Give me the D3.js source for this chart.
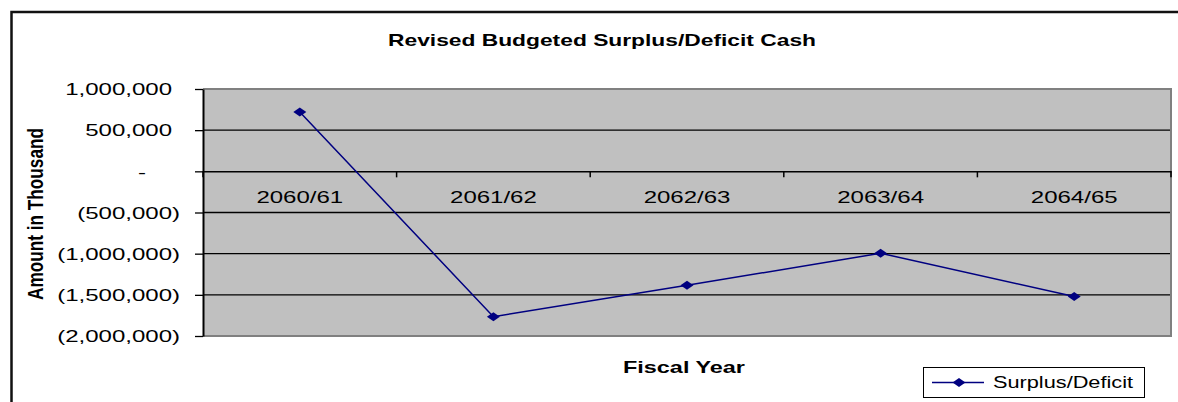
<!DOCTYPE html>
<html><head><meta charset="utf-8">
<script src="https://cdn.jsdelivr.net/npm/d3@7"></script>
<style>body{margin:0;background:#fff}svg{display:block}</style>
</head><body><svg id="c" width="1178" height="402"></svg>
<script>
const categories = ["2060/61","2061/62","2062/63","2063/64","2064/65"];
const surplusDeficit = [720000,-1765000,-1385000,-995000,-1520000];
const yTicks = [1000000,500000,0,-500000,-1000000,-1500000,-2000000];
const chartTitle = "Revised Budgeted Surplus/Deficit Cash";
const xTitle = "Fiscal Year";
const yTitle = "Amount in Thousand";
const seriesName = "Surplus/Deficit";

const svg = d3.select("#c");
const font = "'Liberation Sans', Arial, Helvetica, sans-serif";
const L = 203, R = 1171, T = 89, B = 336;
const x = d3.scaleBand().domain(categories).range([L, R]);
const y = d3.scaleLinear().domain([-2000000, 1000000]).range([B, T]);
const navy = "#000080";

function stretch(sel, factor) {
  sel.each(function () {
    const len = this.getComputedTextLength();
    d3.select(this).attr("textLength", len * factor).attr("lengthAdjust", "spacingAndGlyphs");
  });
}

// outer frame
svg.append("path").attr("d", "M11.5,402 V12 H1178").attr("fill", "none")
  .attr("stroke", "#111").attr("stroke-width", 2.5);

// plot area
svg.append("rect").attr("x", L).attr("y", T).attr("width", R - L).attr("height", B - T).attr("fill", "#c0c0c0");
svg.append("g").selectAll("line")
  .data(yTicks.filter(v => v !== d3.max(yTicks) && v !== d3.min(yTicks) && v !== 0))
  .join("line")
  .attr("x1", L).attr("x2", R).attr("y1", d => y(d)).attr("y2", d => y(d))
  .attr("stroke", "#000").attr("stroke-width", 1.3);
svg.append("path").attr("d", `M${L},${T} H${R} V${B} H${L}`).attr("fill", "none")
  .attr("stroke", "#808080").attr("stroke-width", 2);

// y axis
const fmtN = d3.format(",");
const fmt = v => v > 0 ? fmtN(v) : v < 0 ? "(" + fmtN(-v) + ")" : "-";
const gy = svg.append("g").attr("transform", `translate(${L},0)`)
  .call(d3.axisLeft(y).tickValues(yTicks).tickSize(8).tickSizeOuter(0).tickPadding(23).tickFormat(fmt));
gy.select(".domain").attr("stroke", "#000").attr("stroke-width", 2);
gy.selectAll(".tick line").attr("stroke", "#000").attr("stroke-width", 1.3);
gy.selectAll(".tick text").attr("font-family", font).attr("font-size", 16).attr("fill", "#000")
  .attr("dy", "0.36em");
gy.selectAll(".tick text").each(function (d) {
  const len = this.getComputedTextLength() * 1.5;
  const right = d < 0 ? -23 : d > 0 ? -31 : -57;
  d3.select(this).attr("text-anchor", "start").attr("x", right - len)
    .attr("textLength", len).attr("lengthAdjust", "spacingAndGlyphs");
});

// x axis at zero
const gx = svg.append("g").attr("transform", `translate(0,${y(0)})`)
  .call(d3.axisBottom(x).tickSize(0).tickPadding(20.5));
gx.select(".domain").attr("stroke", "#000").attr("stroke-width", 1.5);
gx.selectAll(".tick text").attr("font-family", font).attr("font-size", 16).attr("fill", "#000");
stretch(gx.selectAll(".tick text"), 1.5);
gx.append("g").selectAll("line")
  .data(categories.map(c => x(c)).concat([R]))
  .join("line")
  .attr("x1", d => d).attr("x2", d => d).attr("y1", 0).attr("y2", 6)
  .attr("stroke", "#000").attr("stroke-width", 1.5);

// series
const cx = c => x(c) + x.bandwidth() / 2;
const pts = categories.map((c, i) => [cx(c), y(surplusDeficit[i])]);
svg.append("path").datum(pts).attr("d", d3.line()).attr("fill", "none")
  .attr("stroke", navy).attr("stroke-width", 1.5);
const diamond = "M0,-4.5 L6.5,0 L0,4.5 L-6.5,0Z";
svg.append("g").selectAll("path").data(pts).join("path")
  .attr("d", diamond).attr("transform", d => `translate(${d[0]},${d[1]})`).attr("fill", navy);

// titles
svg.append("text").attr("x", 388).attr("y", 46).attr("font-family", font).attr("font-weight", "bold")
  .attr("font-size", 17).attr("textLength", 428).attr("lengthAdjust", "spacingAndGlyphs").text(chartTitle);
svg.append("text").attr("x", 623).attr("y", 373).attr("font-family", font).attr("font-weight", "bold")
  .attr("font-size", 17).attr("textLength", 122).attr("lengthAdjust", "spacingAndGlyphs").text(xTitle);
svg.append("text").attr("transform", "translate(43,300) rotate(-90) scale(1,1.5)")
  .attr("font-family", font).attr("font-weight", "bold").attr("font-size", 15)
  .attr("textLength", 172).attr("lengthAdjust", "spacingAndGlyphs").text(yTitle);

// legend
const lg = svg.append("g");
lg.append("rect").attr("x", 923.5).attr("y", 367.5).attr("width", 221).attr("height", 30)
  .attr("fill", "#fff").attr("stroke", "#000").attr("stroke-width", 1);
lg.append("line").attr("x1", 932).attr("x2", 984).attr("y1", 382.5).attr("y2", 382.5)
  .attr("stroke", navy).attr("stroke-width", 1.5);
lg.append("path").attr("d", diamond).attr("transform", "translate(959,382.5)").attr("fill", navy);
lg.append("text").attr("x", 993).attr("y", 387.5).attr("font-family", font).attr("font-size", 16)
  .attr("textLength", 140).attr("lengthAdjust", "spacingAndGlyphs").text(seriesName);
</script></body></html>
